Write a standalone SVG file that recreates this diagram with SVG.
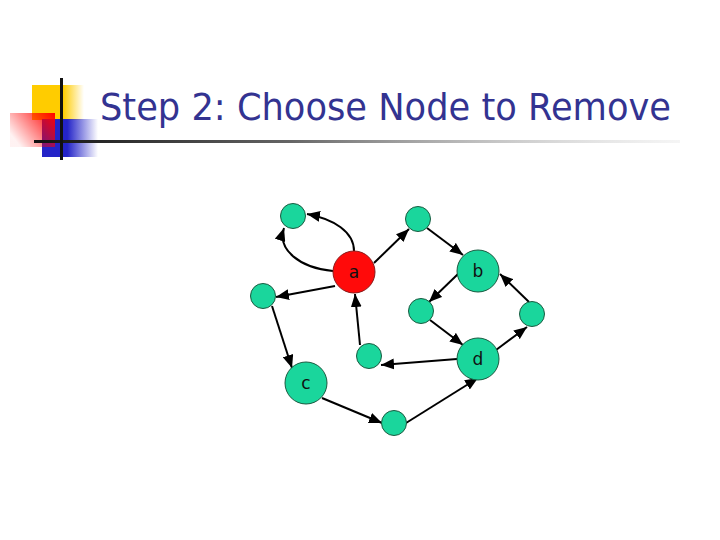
<svg xmlns="http://www.w3.org/2000/svg" width="720" height="540" viewBox="0 0 720 540">
<defs>
<style>
.n{fill:#1ad69c;stroke:#1a5a40;stroke-width:1}
.r{fill:#ff0a0a;stroke:#8a1a1a;stroke-width:1}
.e{fill:none;stroke:#000;stroke-width:2;marker-end:url(#ah)}
.lbl{font-family:"DejaVu Sans",Verdana,sans-serif;font-size:17px;fill:#111;text-anchor:middle}
.title{font-family:"DejaVu Sans",Tahoma,sans-serif;font-size:38px;fill:#333391}
</style>
<marker id="ah" viewBox="0 0 12 10" refX="12" refY="5" markerWidth="13" markerHeight="11" markerUnits="userSpaceOnUse" orient="auto">
<path d="M0,0 L12,5 L0,10 z" fill="#000"/>
</marker>
<linearGradient id="gy" x1="0" y1="0" x2="1" y2="0">
<stop offset="0" stop-color="#ffcc00"/><stop offset="0.6" stop-color="#ffcc00"/><stop offset="1" stop-color="#ffcc00" stop-opacity="0"/>
</linearGradient>
<linearGradient id="gb" x1="0" y1="0" x2="1" y2="0">
<stop offset="0" stop-color="#2424c8"/><stop offset="0.45" stop-color="#2424c8"/><stop offset="1" stop-color="#2424c8" stop-opacity="0"/>
</linearGradient>
<linearGradient id="gr" x1="1" y1="0" x2="0" y2="0.6">
<stop offset="0" stop-color="#ff0000"/><stop offset="1" stop-color="#ff0000" stop-opacity="0.05"/>
</linearGradient>
<linearGradient id="gl" x1="0" y1="0" x2="1" y2="0">
<stop offset="0" stop-color="#111"/><stop offset="0.4" stop-color="#666"/><stop offset="1" stop-color="#ddd" stop-opacity="0.3"/>
</linearGradient>
</defs>
<rect width="720" height="540" fill="#fff"/>
<g id="decor">
<rect x="32" y="85" width="52" height="35" fill="url(#gy)"/>
<rect x="42" y="119" width="56" height="38" fill="url(#gb)"/>
<rect x="10" y="113" width="45" height="34" fill="url(#gr)"/>
<rect x="34" y="140" width="646" height="3" fill="url(#gl)"/>
<rect x="60" y="78" width="3" height="82" fill="#111"/>
</g>
<text class="title" x="100" y="120" textLength="571" lengthAdjust="spacingAndGlyphs">Step 2: Choose Node to Remove</text>
<g id="connectors">
<path class="e" d="M354,251 C354,232 334,219 307,214"/>
<path class="e" d="M333,271 C300,268 277,250 284,228"/>
<path class="e" d="M335,286 L276,297"/>
<path class="e" d="M374,263 L409,229"/>
<path class="e" d="M427,228 L463,255"/>
<path class="e" d="M458,274 L429,302"/>
<path class="e" d="M529,302 L500,274"/>
<path class="e" d="M496,350 L527,327"/>
<path class="e" d="M430,320 L463,345"/>
<path class="e" d="M457,359 L381,365"/>
<path class="e" d="M360,345 L355,294"/>
<path class="e" d="M272,306 L292,368"/>
<path class="e" d="M322,398 L382,423"/>
<path class="e" d="M406,423 L478,378"/>
</g>
<g id="n1"><circle class="n" cx="293" cy="216" r="12.5"/></g>
<g id="a"><circle class="r" cx="354" cy="272" r="21"/><text class="lbl" x="354" y="278">a</text></g>
<g id="n2"><circle class="n" cx="263" cy="296" r="12.5"/></g>
<g id="n3"><circle class="n" cx="418" cy="219" r="12.5"/></g>
<g id="b"><circle class="n" cx="478" cy="271" r="21"/><text class="lbl" x="478" y="277">b</text></g>
<g id="n4"><circle class="n" cx="421" cy="311" r="12.5"/></g>
<g id="n5"><circle class="n" cx="532" cy="314" r="12.5"/></g>
<g id="n6"><circle class="n" cx="369" cy="356" r="12.5"/></g>
<g id="d"><circle class="n" cx="478" cy="359" r="21"/><text class="lbl" x="478" y="365">d</text></g>
<g id="c"><circle class="n" cx="306" cy="383" r="21"/><text class="lbl" x="306" y="389">c</text></g>
<g id="n7"><circle class="n" cx="394" cy="423" r="12.5"/></g>
</svg>
